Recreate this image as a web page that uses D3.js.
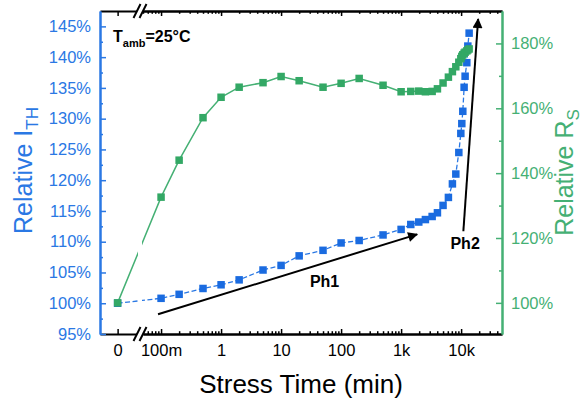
<!DOCTYPE html>
<html>
<head>
<meta charset="utf-8">
<script src="https://cdn.jsdelivr.net/npm/d3@7"></script>
<style>
  html, body { margin: 0; padding: 0; background: #ffffff; }
  svg { display: block; font-family: "Liberation Sans", Arial, sans-serif; }
</style>
</head>
<body>
<svg id="chart" width="583" height="405"></svg>
<script>
// ---------------- data ----------------
const stressTime = [0, 0.1, 0.2, 0.5, 1, 2, 5, 10, 20, 50, 100, 200, 500, 1000, 1450, 1970, 2540, 3290, 4030, 5000, 6140, 7160, 8160, 9160, 9890, 10270, 10670, 11220, 11660, 12450, 12940, 13600];
const relITH = [100, 100.8, 101.45, 102.4, 103.0, 103.8, 105.4, 106.15, 107.7, 108.6, 109.8, 110.2, 111.1, 112.0, 112.8, 113.2, 113.6, 114.1, 114.7, 115.9, 117.2, 119.4, 121.0, 124.5, 127.6, 129.2, 131.2, 135.1, 136.9, 139.1, 141.8, 143.9];
const relRS = [100, 132.6, 144.0, 157.1, 163.4, 166.5, 167.9, 169.8, 168.5, 166.5, 167.7, 169.2, 167.1, 165.1, 165.2, 165.3, 165.1, 165.2, 166.0, 167.8, 169.6, 171.3, 172.8, 174.2, 175.3, 176.0, 176.5, 177.0, 177.3, 177.7, 178.0, 178.3];

const xMajorLog = [0.1, 1, 10, 100, 1000, 10000];
const xTickLabels = ["100m", "1", "10", "100", "1k", "10k"];
const leftTicks = [95, 100, 105, 110, 115, 120, 125, 130, 135, 140, 145];
const leftMinor = [97.5, 102.5, 107.5, 112.5, 117.5, 122.5, 127.5, 132.5, 137.5, 142.5];
const rightTicks = [100, 120, 140, 160, 180];
const rightMinor = [110, 130, 150, 170];

// annotations (data coordinates: [time, relative I_TH %])
const ph1Arrow = [[0.089, 98.2], [1850, 111.2]];
const ph2Arrow = [[10900, 111.7], [19200, 146.2]];
const ph1Label = [53, 102.6];
const ph2Label = [11660, 108.75];

// ---------------- layout ----------------
const L = 100, R = 502, T = 11, B = 334;
const blue = "#2a78e4", blueMark = "#1a6be0";
const green = "#45b074", greenMark = "#33a865";

const svg = d3.select("#chart");

const xLin = d3.scaleLinear().domain([-1, 1.1]).range([L, 137]);
const xLog = d3.scaleLog().domain([0.05, 48000]).range([143, R]);
const X = t => t === 0 ? xLin(0) : xLog(t);
const yL = d3.scaleLinear().domain([95, 147.5]).range([B, T]);
const yR = d3.scaleLinear().domain([90.4, 190]).range([B, T]);

// minor log ticks
const xMinorLog = [];
for (let e = -2; e <= 4; e++) {
  for (let m = 2; m <= 9; m++) {
    const v = m * Math.pow(10, e);
    if (v >= 0.05 && v <= 48000) xMinorLog.push(v);
  }
}

// ---------------- series ----------------
const pts = stressTime.map((t, i) => ({t, a: relITH[i], b: relRS[i]}));

const lineA = d3.line().x(d => X(d.t)).y(d => yL(d.a));
const lineB = d3.line().x(d => X(d.t)).y(d => yR(d.b));

svg.append("path").datum(pts).attr("d", lineA)
  .attr("fill", "none").attr("stroke", blue).attr("stroke-width", 1.3)
  .attr("stroke-dasharray", "5,2.5");
svg.append("path").datum(pts).attr("d", lineB)
  .attr("fill", "none").attr("stroke", green).attr("stroke-width", 1.5);

// white gap at the axis break
const bx = 140;
svg.append("rect").attr("x", bx - 2).attr("y", T + 2).attr("width", 4).attr("height", B - T - 4).attr("fill", "#fff");

const ms = 7.5;
svg.append("g").selectAll("rect").data(pts).join("rect")
  .attr("x", d => X(d.t) - ms / 2).attr("y", d => yL(d.a) - ms / 2)
  .attr("width", ms).attr("height", ms).attr("fill", blueMark);
svg.append("g").selectAll("rect").data(pts).join("rect")
  .attr("x", d => X(d.t) - ms / 2).attr("y", d => yR(d.b) - ms / 2)
  .attr("width", ms).attr("height", ms).attr("fill", greenMark);

// ---------------- axes ----------------
function styleAxis(g, color, w) {
  g.select(".domain").attr("stroke", color).attr("stroke-width", w || 2);
  g.selectAll(".tick line").attr("stroke", color).attr("stroke-width", 1.5);
  g.selectAll(".tick text").attr("fill", color)
    .style("font-size", "16.5px").style("font-family", "'Liberation Sans', Arial, sans-serif");
}

// bottom (linear segment with 0)
const gBL = svg.append("g").attr("transform", `translate(0,${B})`)
  .call(d3.axisBottom(xLin).tickValues([0]).tickFormat(() => "0").tickSizeInner(-5).tickSizeOuter(0).tickPadding(10));
styleAxis(gBL, "#000");
// bottom log segment
const gBM = svg.append("g").attr("transform", `translate(0,${B})`)
  .call(d3.axisBottom(xLog).tickValues(xMinorLog).tickFormat("").tickSizeInner(-2.8).tickSizeOuter(0));
styleAxis(gBM, "#000");
const gB = svg.append("g").attr("transform", `translate(0,${B})`)
  .call(d3.axisBottom(xLog).tickValues(xMajorLog).tickFormat((d, i) => xTickLabels[i]).tickSizeInner(-5).tickSizeOuter(0).tickPadding(10));
styleAxis(gB, "#000");

// top axes (no labels)
const gTL = svg.append("g").attr("transform", `translate(0,${T})`)
  .call(d3.axisTop(xLin).tickValues([0]).tickFormat("").tickSizeInner(-5).tickSizeOuter(0));
styleAxis(gTL, "#000");
const gTM = svg.append("g").attr("transform", `translate(0,${T})`)
  .call(d3.axisTop(xLog).tickValues(xMinorLog).tickFormat("").tickSizeInner(-2.8).tickSizeOuter(0));
styleAxis(gTM, "#000");
const gT = svg.append("g").attr("transform", `translate(0,${T})`)
  .call(d3.axisTop(xLog).tickValues(xMajorLog).tickFormat("").tickSizeInner(-5).tickSizeOuter(0));
styleAxis(gT, "#000");

// left axis
const gLM = svg.append("g").attr("transform", `translate(${L},0)`)
  .call(d3.axisLeft(yL).tickValues(leftMinor).tickFormat("").tickSizeInner(-3).tickSizeOuter(0));
styleAxis(gLM, blue);
const gLa = svg.append("g").attr("transform", `translate(${L},0)`)
  .call(d3.axisLeft(yL).tickValues(leftTicks).tickFormat(d => d + "%").tickSizeInner(-6).tickSizeOuter(0).tickPadding(9));
styleAxis(gLa, blue);

// right axis
const gRM = svg.append("g").attr("transform", `translate(${R},0)`)
  .call(d3.axisRight(yR).tickValues(rightMinor).tickFormat("").tickSizeInner(-3).tickSizeOuter(0));
styleAxis(gRM, green);
const gRa = svg.append("g").attr("transform", `translate(${R},0)`)
  .call(d3.axisRight(yR).tickValues(rightTicks).tickFormat(d => d + "%").tickSizeInner(-6).tickSizeOuter(0).tickPadding(9));
styleAxis(gRa, green);

// axis break marks
[T, B].forEach(y => {
  const s = 3.5, h = 7, off = 3;
  svg.append("polygon")
    .attr("points", [[bx - off - s, y + h], [bx - off + s, y - h], [bx + off + s, y - h], [bx + off - s, y + h]].map(p => p.join(",")).join(" "))
    .attr("fill", "#fff");
  [-off, off].forEach(o => {
    svg.append("line")
      .attr("x1", bx + o - s).attr("y1", y + h).attr("x2", bx + o + s).attr("y2", y - h)
      .attr("stroke", "#000").attr("stroke-width", 2);
  });
});

// ---------------- annotations ----------------
const defs = svg.append("defs");
defs.append("marker").attr("id", "arr").attr("viewBox", "0 0 10 10")
  .attr("refX", 9).attr("refY", 5).attr("markerWidth", 6).attr("markerHeight", 5)
  .attr("markerUnits", "strokeWidth").attr("orient", "auto")
  .append("path").attr("d", "M0,0 L10,5 L0,10 Z").attr("fill", "#000");

[ph1Arrow, ph2Arrow].forEach(a => {
  svg.append("line")
    .attr("x1", xLog(a[0][0])).attr("y1", yL(a[0][1]))
    .attr("x2", xLog(a[1][0])).attr("y2", yL(a[1][1]))
    .attr("stroke", "#000").attr("stroke-width", 2).attr("marker-end", "url(#arr)");
});

svg.append("text").attr("x", xLog(ph1Label[0])).attr("y", yL(ph1Label[1]))
  .attr("text-anchor", "middle").style("font-weight", "bold").style("font-size", "16px").text("Ph1");
svg.append("text").attr("x", xLog(ph2Label[0])).attr("y", yL(ph2Label[1]))
  .attr("text-anchor", "middle").style("font-weight", "bold").style("font-size", "16px").text("Ph2");

// T_amb label
const tAmb = svg.append("text").attr("x", L + 13).attr("y", T + 31)
  .style("font-weight", "bold").style("font-size", "16px");
tAmb.append("tspan").text("T");
tAmb.append("tspan").attr("dy", 5).style("font-size", "11px").text("amb");
tAmb.append("tspan").attr("dy", -5).text("=25°C");

// axis titles
svg.append("text").attr("x", (L + R) / 2).attr("y", 393)
  .attr("text-anchor", "middle").style("font-size", "26px").attr("fill", "#000").text("Stress Time (min)");

const yTitleL = svg.append("text")
  .attr("transform", `translate(32,${(T + B) / 2 - 2}) rotate(-90)`)
  .attr("text-anchor", "middle").attr("fill", blue).style("font-size", "25px");
yTitleL.append("tspan").text("Relative I");
yTitleL.append("tspan").attr("dy", 6).style("font-size", "17px").text("TH");

const yTitleR = svg.append("text")
  .attr("transform", `translate(573,${(T + B) / 2}) rotate(-90)`)
  .attr("text-anchor", "middle").attr("fill", green).style("font-size", "25px");
yTitleR.append("tspan").text("Relative R");
yTitleR.append("tspan").attr("dy", 6).style("font-size", "17px").text("S");
</script>
</body>
</html>
